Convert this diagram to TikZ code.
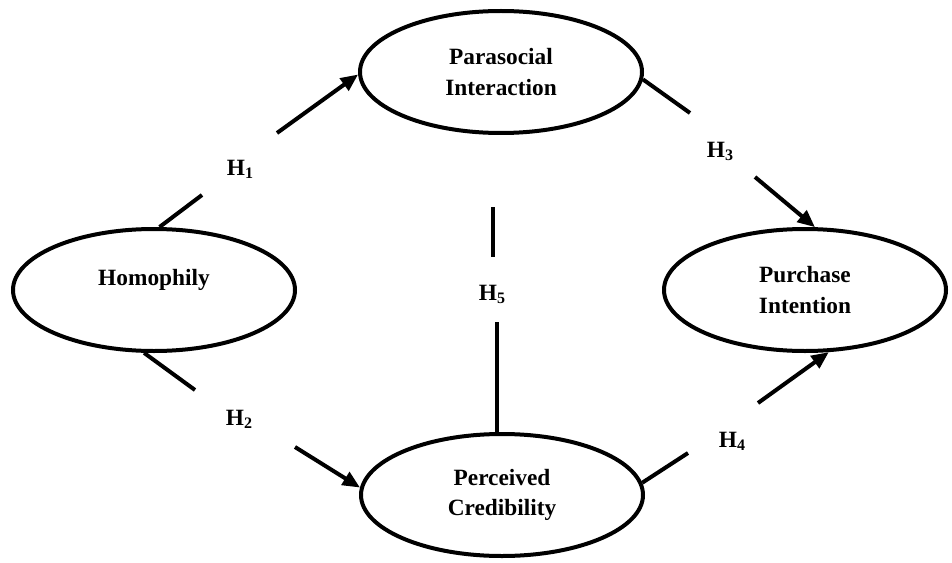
\documentclass[tikz,border=0pt]{standalone}
\usepackage{fontspec}
\setmainfont{Liberation Serif}
\usetikzlibrary{shapes.geometric,arrows.meta}
\tikzset{
  construct/.style={ellipse, draw=black, line width=3pt, minimum width=211.5pt,
    minimum height=91.5pt, inner sep=0pt, align=center,
    font=\fontsize{17.5}{23}\selectfont\bfseries},
  hyp/.style={font=\fontsize{17.5}{23}\selectfont\bfseries, inner sep=1pt},
  link/.style={line width=3pt, draw=black},
  arrowlink/.style={link, -{Triangle[length=13pt,width=11pt]}}
}
\newcommand{\hyplabel}[1]{H\raisebox{-2.2pt}{\fontsize{12}{12}\selectfont #1}}
\begin{document}
\begin{tikzpicture}[x=0.75pt,y=-0.75pt]
\useasboundingbox (0,0) rectangle (952,563);
% constructs
\node[construct] (para) at (501,72) {Parasocial\\Interaction};
\node[construct] (homo) at (154,290) {\raisebox{7.5pt}[\height][\depth]{Homophily}};
\node[construct] (pur) at (805,290) {Purchase\\Intention};
\node[construct] (perc) at (502,495) {Perceived\\Credibility};
% hypothesis labels
\node[hyp] (h1) at (240,169) {\hyplabel{1}};
\node[hyp] (h2) at (239,419) {\hyplabel{2}};
\node[hyp] (h3) at (720,151) {\hyplabel{3}};
\node[hyp] (h4) at (732,441) {\hyplabel{4}};
\node[hyp] (h5) at (492,294) {\hyplabel{5}};
% gap ends
\coordinate (h1a) at (202,195);
\coordinate (h1b) at (277,133);
\coordinate (h2a) at (195,390);
\coordinate (h2b) at (295,447);
\coordinate (h3a) at (690,113);
\coordinate (h3b) at (755,177);
\coordinate (h4a) at (688,453);
\coordinate (h4b) at (758,403);
\coordinate (h5a) at (493,207);
\coordinate (h5b) at (493,257);
\coordinate (h5c) at (497,322);
% H1
\draw[link] (homo.85) -- (h1a);
\draw[arrowlink] (h1b) -- (para.181);
% H2
\draw[link] (homo.261) -- (h2a);
\draw[arrowlink] (h2b) -- (perc.177);
% H3
\draw[link] (para.357) -- (h3a);
\draw[arrowlink] (h3b) -- (pur.81);
% H4
\draw[link] (perc.5) -- (h4a);
\draw[arrowlink] (h4b) -- (pur.291);
% H5
\draw[link] (h5a) -- (h5b);
\draw[link] (h5c) -- (h5c |- perc.north);
\end{tikzpicture}
\end{document}
